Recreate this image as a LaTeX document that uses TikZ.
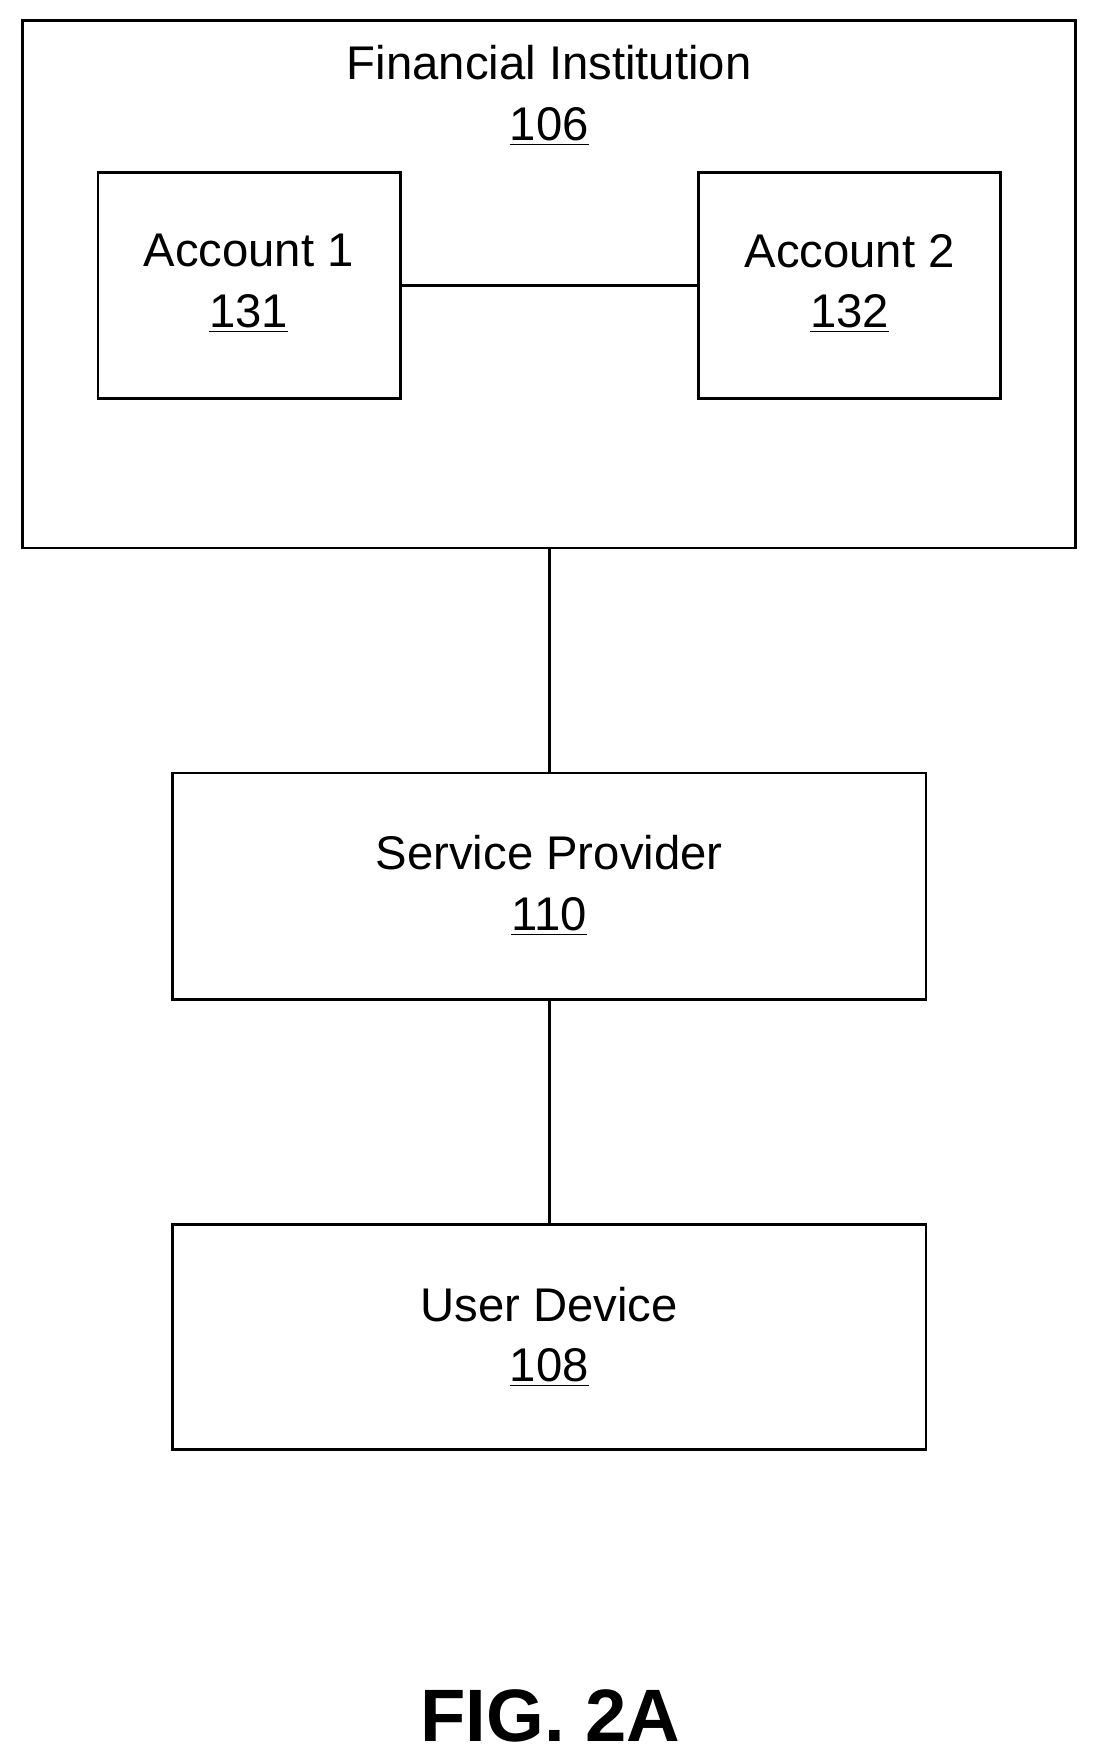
\documentclass[tikz,border=0pt]{standalone}
\usepackage{fontspec}
\setmainfont{Liberation Sans}
\begin{document}
\begin{tikzpicture}[x=0.5pt,y=-0.5pt,
  box/.style={draw,line width=1.2pt,inner sep=0pt},
  lbl/.style={font=\fontsize{21pt}{27pt}\selectfont,align=center},
  ln/.style={line width=1.2pt}]
\useasboundingbox (0,0) rectangle (975,1564);
\draw[box] (20,18) rectangle (956,487);
\coordinate (fitop) at (488,487);
\node[lbl] (fi) at (488,85) {Financial Institution\\\underline{106}};
\draw[box] (87,153) rectangle (356,354);
\node[lbl] (a1) at (221,252) {Account 1\\\underline{131}};
\draw[box] (621,153) rectangle (889,354);
\node[lbl] (a2) at (755,252) {Account 2\\\underline{132}};
\coordinate (a1r) at (356,254);
\coordinate (a2l) at (621,254);
\draw[ln] (a1r) -- (a2l);
\draw[box] (153,687) rectangle (823,888);
\node[lbl] (sp) at (488,787) {Service Provider\\\underline{110}};
\coordinate (spt) at (488,687);
\coordinate (spb) at (488,888);
\draw[box] (153,1088) rectangle (823,1288);
\node[lbl] (ud) at (488,1188) {User Device\\\underline{108}};
\coordinate (udt) at (488,1088);
\draw[ln] (fitop) -- (spt);
\draw[ln] (spb) -- (udt);
\node[font=\fontsize{33pt}{38pt}\selectfont\bfseries] (fig) at (489,1525) {FIG. 2A};
\end{tikzpicture}
\end{document}
